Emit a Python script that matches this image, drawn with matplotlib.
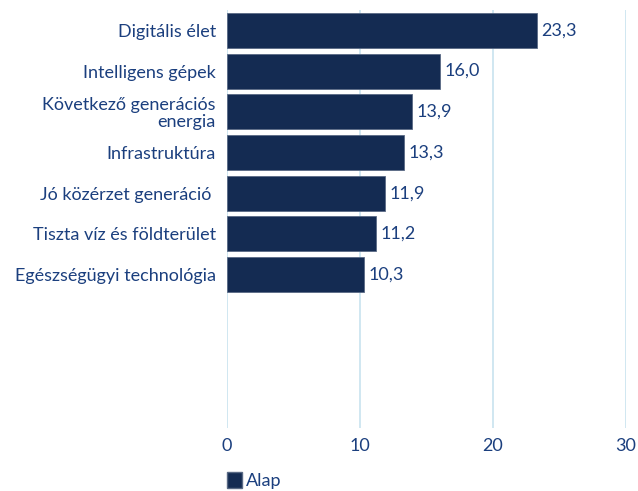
import matplotlib.pyplot as plt
from matplotlib.patches import Patch

# Data
categories = ['Digitális élet', 'Intelligens gépek', 'Következő generációs\nenergia',
              'Infrastruktúra', 'Jó közérzet generáció ', 'Tiszta víz és földterület',
              'Egészségügyi technológia']
values = [23.3, 16.0, 13.9, 13.3, 11.9, 11.2, 10.3]
xticks = [0, 10, 20, 30]
series_name = 'Alap'

bar_color = '#142b52'
text_color = '#1b3f7e'
grid_color = '#c8e3ef'

plt.rcParams['font.family'] = ['Lato', 'DejaVu Sans']

fig = plt.figure(figsize=(6.38, 4.91), dpi=100)
ax = fig.add_axes([0.3558, 0.1283, 0.625, 0.8513])

pos = list(range(len(categories)))
ax.barh(pos, values, height=0.86, color=bar_color, edgecolor='#5a6a85',
        linewidth=0.6, zorder=3)

for p, v in zip(pos, values):
    ax.text(v + 0.35, p, f'{v:.1f}'.replace('.', ','), va='center', ha='left',
            fontsize=13, color=text_color)

ax.set_xlim(0, 30)
ax.set_ylim(9.77, -0.5)
ax.set_xticks(xticks)
ax.set_xticklabels([str(t) for t in xticks])
ax.set_yticks(pos)
ax.set_yticklabels(categories, fontsize=13, color=text_color, linespacing=1.05)
ax.tick_params(axis='x', colors=text_color, labelsize=13, length=0, pad=7)
ax.tick_params(axis='y', length=0, pad=8)

ax.grid(axis='x', color=grid_color, linewidth=1.2, zorder=0)
for s in ax.spines.values():
    s.set_visible(False)

leg = fig.legend(handles=[Patch(facecolor=bar_color, edgecolor='#5a6a85', label=series_name)],
                 loc='lower left', bbox_to_anchor=(0.331, -0.03), frameon=False,
                 fontsize=13, handlelength=0.8, handleheight=1.0, handletextpad=0.25)
for t in leg.get_texts():
    t.set_color(text_color)

fig.savefig('out.png', dpi=100)
